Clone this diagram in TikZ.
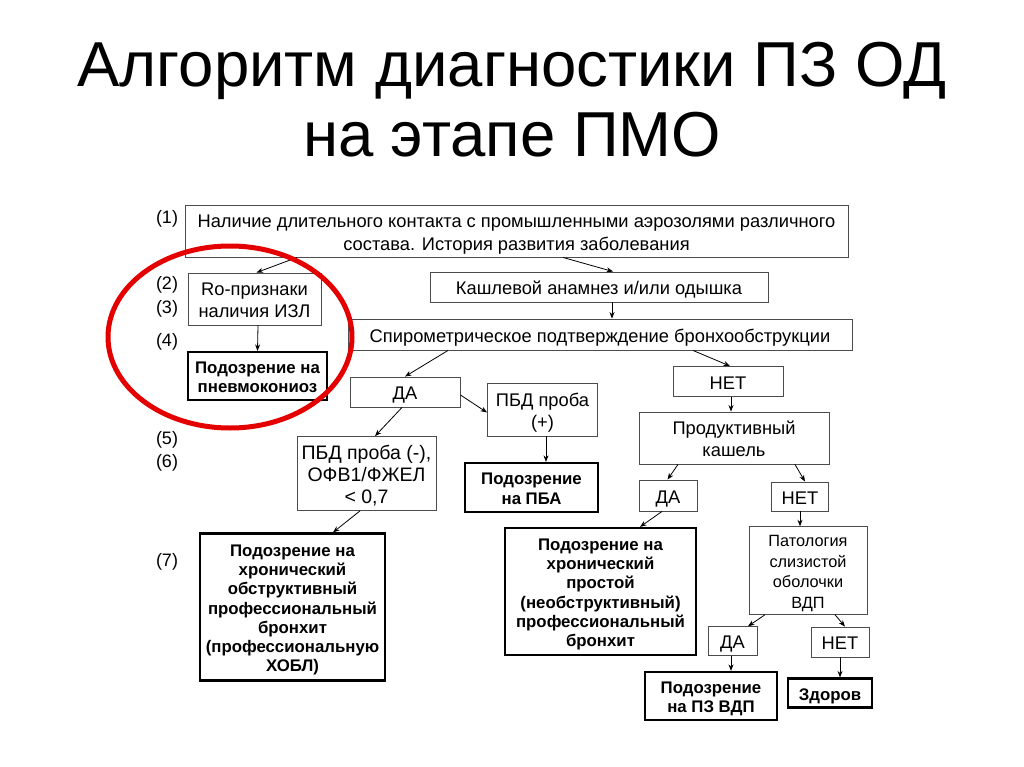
\documentclass[tikz,border=0pt]{standalone}
\usepackage{fontspec}
\setmainfont{Liberation Sans}
\usetikzlibrary{arrows.meta}
\newcommand\strA{\rule{0pt}{1.2em}}
\newcommand\strB{\rule[-0.36em]{0pt}{0pt}}
\begin{document}
\begin{tikzpicture}[x=1pt,y=-1pt,
  box/.style={draw=black!70,line width=0.9pt,inner sep=0pt,align=center,
    font=\fontsize{18.3}{22}\selectfont},
  bbox/.style={draw=black,line width=2.2pt,inner sep=0pt,align=center,
    font=\fontsize{16.8}{19.2}\selectfont\bfseries},
  lab/.style={inner sep=0pt,font=\fontsize{18}{20}\selectfont},
  arr/.style={-{Stealth[length=6.5pt,width=5pt]},line width=0.8pt}
]
\useasboundingbox (0,0) rectangle (1024,767);
\fill[white] (0,0) rectangle (1024,767);

\node[inner sep=0pt,align=center,font=\fontsize{63.5}{70}\selectfont] (title) at (512,100)
  {Алгоритм диагностики ПЗ ОД\\на этапе ПМО};

\node[box,minimum width=663pt,minimum height=52pt,font=\fontsize{18.3}{23}\selectfont] (top) at (516.5,231)
  {\strA Наличие длительного контакта с промышленными аэрозолями различного\\состава. История развития заболевания\strB};
\node[box,minimum width=133pt,minimum height=52pt] (ro) at (254.5,299) {\strA Ro-признаки\\наличия ИЗЛ\strB};
\node[box,minimum width=338pt,minimum height=30pt] (cough) at (599,287) {\strA Кашлевой анамнез и/или одышка\strB};
\node[box,minimum width=504pt,minimum height=31pt] (spiro) at (600,334.5) {\strA Спирометрическое подтверждение бронхообструкции\strB};
\node[bbox,minimum width=139pt,minimum height=48pt] (pneumo) at (257.5,376) {\strA Подозрение на\\пневмокониоз\strB};
\node[box,minimum width=110pt,minimum height=30pt] (da1) at (405,392) {\strA ДА\strB};
\node[box,minimum width=110pt,minimum height=53pt] (pbdplus) at (542.5,409.5) {\strA ПБД проба\\(+)\strB};
\node[box,minimum width=110pt,minimum height=30pt] (net1) at (728,381.5) {\strA НЕТ\strB};
\node[box,minimum width=190pt,minimum height=52pt] (prod) at (734,438) {\strA Продуктивный\\кашель\strB};
\node[box,minimum width=139pt,minimum height=73pt,font=\fontsize{19.5}{21.7}\selectfont] (pbdminus) at (366.5,473.5) {\strA ПБД проба (-),\\ОФВ1/ФЖЕЛ\\< 0,7\strB};
\node[bbox,minimum width=133pt,minimum height=49pt] (pba) at (531.5,487.5) {\strA Подозрение\\на ПБА\strB};
\node[box,minimum width=58pt,minimum height=31pt] (da2) at (668,495.5) {\strA ДА\strB};
\node[box,minimum width=57pt,minimum height=29pt] (net2) at (800,496.5) {\strA НЕТ\strB};
\node[bbox,minimum width=185pt,minimum height=147pt] (hobl) at (292.5,607)
  {\strA Подозрение на\\хронический\\обструктивный\\профессиональный\\бронхит\\(профессиональную\\ХОБЛ)\strB};
\node[bbox,minimum width=191pt,minimum height=127pt] (prost) at (600.5,591.5)
  {\strA Подозрение на\\хронический\\простой\\(необструктивный)\\профессиональный\\бронхит\strB};
\node[box,minimum width=118pt,minimum height=87pt,font=\fontsize{16.3}{20.7}\selectfont] (pat) at (808,570.5)
  {\strA Патология\\слизистой\\оболочки\\ВДП\strB};
\node[box,minimum width=49pt,minimum height=28pt] (da3) at (732.5,641) {\strA ДА\strB};
\node[box,minimum width=58pt,minimum height=30pt] (net3) at (840,642) {\strA НЕТ\strB};
\node[bbox,minimum width=132pt,minimum height=48pt] (pzvdp) at (711,696) {\strA Подозрение\\на ПЗ ВДП\strB};
\node[bbox,minimum width=84pt,minimum height=29pt] (zdorov) at (830,693) {\strA Здоров\strB};

\node[lab] (l1) at (167,219) {(1)};
\node[lab] (l2) at (167,285) {(2)};
\node[lab] (l3) at (167,309) {(3)};
\node[lab] (l4) at (167,342) {(4)};
\node[lab] (l5) at (167,440) {(5)};
\node[lab] (l6) at (167,463) {(6)};
\node[lab] (l7) at (167,562) {(7)};

\draw[arr] ([xshift=-219.5pt]top.south) -- ([xshift=2pt]ro.north);
\draw[arr] ([xshift=46.5pt]top.south) -- ([xshift=14pt]cough.north);
\draw[arr] ([xshift=13pt]cough.south) -- ([xshift=12pt]spiro.north);
\draw[arr] ([xshift=3.5pt]ro.south) -- (pneumo.north);
\draw[arr] ([xshift=-152pt]spiro.south) -- (da1.north);
\draw[arr] ([xshift=93pt]spiro.south) -- ([xshift=2pt]net1.north);
\draw[arr] ([yshift=-3pt]da1.east) -- ([yshift=-3pt]pbdplus.west);
\draw[arr] ([xshift=-3pt]da1.south) -- ([xshift=8.5pt]pbdminus.north);
\draw[arr] ([xshift=3.5pt]pbdplus.south) -- ([xshift=14.5pt]pba.north);
\draw[arr] ([xshift=3pt]net1.south) -- ([xshift=-3pt]prod.north);
\draw[arr] ([xshift=-56pt]prod.south) -- ([xshift=-0.5pt]da2.north);
\draw[arr] ([xshift=61pt]prod.south) -- ([xshift=5pt]net2.north);
\draw[arr] ([xshift=-6.5pt]pbdminus.south) -- ([xshift=40.5pt]hobl.north);
\draw[arr] ([xshift=-6pt]da2.south) -- ([xshift=39.5pt]prost.north);
\draw[arr] (net2.south) -- ([xshift=-8pt]pat.north);
\draw[arr] ([xshift=-43pt]pat.south) -- ([xshift=15.5pt]da3.north);
\draw[arr] ([xshift=27pt]pat.south) -- ([xshift=5pt]net3.north);
\draw[arr] ([xshift=-1.5pt]da3.south) -- ([xshift=20pt]pzvdp.north);
\draw[arr] (net3.south) -- ([xshift=10pt]zdorov.north);

\draw[red!90!black,line width=5pt] (230,337) ellipse [x radius=122pt,y radius=91pt];
\end{tikzpicture}
\end{document}
